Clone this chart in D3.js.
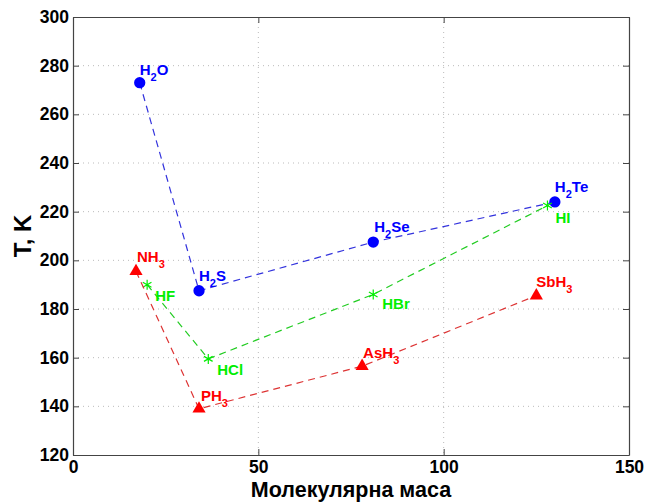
<!DOCTYPE html>
<html>
<head>
<meta charset="utf-8">
<script src="https://cdn.jsdelivr.net/npm/d3@7"></script>
<style>
  body { margin: 0; background: #fff; }
  svg { font-family: "Liberation Sans", Arial, Helvetica, sans-serif; }
</style>
</head>
<body>
<div id="chart"></div>
<script>

// melting points of hydrides vs molecular mass
var xTicks = [0, 50, 100, 150],
    yTicks = [120, 140, 160, 180, 200, 220, 240, 260, 280, 300];

var group16Labels = ["H_2O", "H_2S", "H_2Se", "H_2Te"],
    group16Mass   = [18, 34, 81, 130],
    group16Temp   = [273, 187.5, 207.5, 224];

var group15Labels = ["NH_3", "PH_3", "AsH_3", "SbH_3"],
    group15Mass   = [17, 34, 78, 125],
    group15Temp   = [195.5, 139, 156.5, 185.5];

var group17Labels = ["HF", "HCl", "HBr", "HI"],
    group17Mass   = [20, 36.5, 81, 128],
    group17Temp   = [190, 159.5, 186, 222.5];

var xTitle = "Молекулярна маса",
    yTitle = "T, K";

var W = 646, H = 504;
var margin = { top: 17, left: 73, right: 17, bottom: 49 },
    width = W - margin.left - margin.right,
    height = H - margin.top - margin.bottom;

var svg = d3.select("#chart").append("svg")
    .attr("width", W)
    .attr("height", H);

var g = svg.append("g").attr("transform", "translate(" + margin.left + "," + margin.top + ")");

var x = d3.scaleLinear().domain([0, 150]).range([0, width]);
var y = d3.scaleLinear().domain([120, 300]).range([height, 0]);

// grid
g.append("g").selectAll("line.vg")
    .data(xTicks.slice(1, -1))
    .enter().append("line")
    .attr("x1", function(d) { return x(d); })
    .attr("x2", function(d) { return x(d); })
    .attr("y1", 0).attr("y2", height)
    .style("stroke", "#bbb").style("stroke-dasharray", "1,4");

g.append("g").selectAll("line.hg")
    .data(yTicks.slice(1, -1))
    .enter().append("line")
    .attr("y1", function(d) { return y(d); })
    .attr("y2", function(d) { return y(d); })
    .attr("x1", 0).attr("x2", width)
    .style("stroke", "#bbb").style("stroke-dasharray", "1,4");

// axes, matlab style: ticks inside on all sides
var tickLen = 6;
var axBottom = g.append("g").attr("transform", "translate(0," + height + ")")
    .call(d3.axisBottom(x).tickValues(xTicks).tickSizeInner(-tickLen).tickSizeOuter(0).tickPadding(4));
var axTop = g.append("g")
    .call(d3.axisTop(x).tickValues(xTicks).tickSizeInner(-tickLen).tickSizeOuter(0).tickFormat(""));
var axLeft = g.append("g")
    .call(d3.axisLeft(y).tickValues(yTicks).tickSizeInner(-tickLen).tickSizeOuter(0).tickPadding(4));
var axRight = g.append("g").attr("transform", "translate(" + width + ",0)")
    .call(d3.axisRight(y).tickValues(yTicks).tickSizeInner(-tickLen).tickSizeOuter(0).tickFormat(""));

[axBottom, axTop, axLeft, axRight].forEach(function(a) {
    a.select(".domain").style("stroke", "#444").style("stroke-width", 1.2);
    a.selectAll(".tick line").style("stroke", "#444");
    a.selectAll("text")
        .style("font-size", "17.5px")
        .style("font-weight", "bold")
        .style("fill", "#000")
        .attr("font-family", null);
});
axBottom.selectAll("text").attr("dy", "0.8em");

// titles
svg.append("text")
    .attr("x", margin.left + width / 2)
    .attr("y", 497)
    .attr("text-anchor", "middle")
    .style("font-size", "21.5px")
    .style("font-weight", "bold")
    .text(xTitle);

svg.append("text")
    .attr("transform", "translate(31," + (margin.top + height / 2) + ") rotate(-90)")
    .attr("text-anchor", "middle")
    .style("font-size", "24px")
    .style("font-weight", "bold")
    .text(yTitle);

// series
var series = [
    { labels: group16Labels, mass: group16Mass, temp: group16Temp, color: "#0000ff", line: "#3333dd",
      symbol: "circle", offsets: [[0, -8], [0, -10], [1, -10], [0, -10]] },
    { labels: group17Labels, mass: group17Mass, temp: group17Temp, color: "#00ee00", line: "#22cc22",
      symbol: "asterisk", offsets: [[8, 16], [9, 16], [9, 15], [8, 17]] },
    { labels: group15Labels, mass: group15Mass, temp: group15Temp, color: "#ff0000", line: "#dd3333",
      symbol: "triangle", offsets: [[1, -9], [2, -8], [1, -8], [0, -9]] }
];

var lineGen = d3.line()
    .x(function(d) { return x(d[0]); })
    .y(function(d) { return y(d[1]); });

series.forEach(function(s) {
    var pts = s.mass.map(function(m, i) { return [m, s.temp[i]]; });

    g.append("path")
        .datum(pts)
        .attr("d", lineGen)
        .style("fill", "none")
        .style("stroke", s.line)
        .style("stroke-width", 1.2)
        .style("stroke-dasharray", "7,5");

    var marks = g.append("g").selectAll("path")
        .data(pts)
        .enter().append("path")
        .attr("transform", function(d) { return "translate(" + x(d[0]) + "," + y(d[1]) + ")"; });

    if (s.symbol == "circle") {
        marks.attr("d", d3.symbol().type(d3.symbolCircle).size(100)).style("fill", s.color);
    } else if (s.symbol == "triangle") {
        marks.attr("d", d3.symbol().type(d3.symbolTriangle).size(75)).style("fill", s.color);
    } else {
        marks.attr("d", d3.symbol().type(d3.symbolAsterisk).size(70))
            .style("fill", "none").style("stroke", s.color).style("stroke-width", 1.2);
    }

    // labels with subscripts
    pts.forEach(function(d, i) {
        var parts = s.labels[i].split("_");
        var t = g.append("text")
            .attr("x", x(d[0]) + s.offsets[i][0])
            .attr("y", y(d[1]) + s.offsets[i][1])
            .style("font-size", "15px")
            .style("font-weight", "bold")
            .style("fill", s.color);
        t.append("tspan").text(parts[0]);
        if (parts.length > 1) {
            var sub = parts[1].charAt(0), rest = parts[1].slice(1);
            t.append("tspan").attr("dy", 6).style("font-size", "11px").text(sub);
            if (rest) t.append("tspan").attr("dy", -6).text(rest);
        }
    });
});

</script>
</body>
</html>
